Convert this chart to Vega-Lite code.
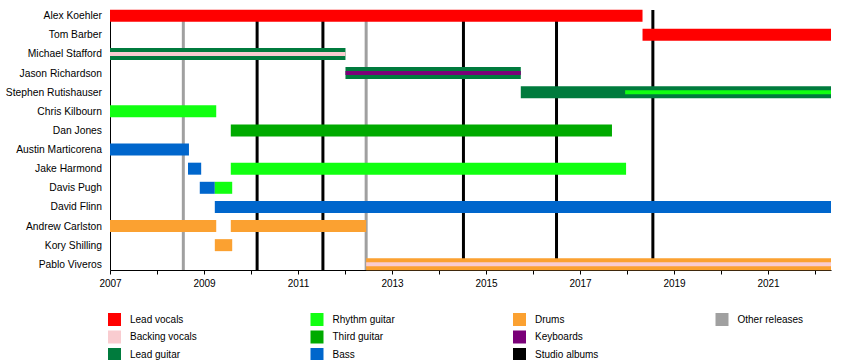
{
  "$schema": "https://vega.github.io/schema/vega-lite/v6.json",
  "width": 721,
  "height": 260,
  "autosize": {"type": "none"},
  "padding": {"left": 110, "top": 10, "right": 19, "bottom": 90},
  "background": "white",
  "config": {
    "view": {"stroke": null},
    "font": "Liberation Sans"
  },
  "datasets": {
    "bars": [
      {"name": "Alex Koehler", "role": "Lead vocals", "start": 2007, "end": 2018.33},
      {"name": "Tom Barber", "role": "Lead vocals", "start": 2018.33, "end": 2022.34},
      {"name": "Michael Stafford", "role": "Lead guitar", "start": 2007, "end": 2012.01},
      {"name": "Jason Richardson", "role": "Lead guitar", "start": 2012.01, "end": 2015.74},
      {"name": "Stephen Rutishauser", "role": "Lead guitar", "start": 2015.74, "end": 2022.34},
      {"name": "Chris Kilbourn", "role": "Rhythm guitar", "start": 2007, "end": 2009.26},
      {"name": "Dan Jones", "role": "Third guitar", "start": 2009.57, "end": 2017.68},
      {"name": "Austin Marticorena", "role": "Bass", "start": 2007, "end": 2008.68},
      {"name": "Jake Harmond", "role": "Bass", "start": 2008.66, "end": 2008.94},
      {"name": "Jake Harmond", "role": "Rhythm guitar", "start": 2009.57, "end": 2017.98},
      {"name": "Davis Pugh", "role": "Bass", "start": 2008.91, "end": 2009.23},
      {"name": "Davis Pugh", "role": "Rhythm guitar", "start": 2009.23, "end": 2009.6},
      {"name": "David Flinn", "role": "Bass", "start": 2009.23, "end": 2022.34},
      {"name": "Andrew Carlston", "role": "Drums", "start": 2007, "end": 2009.26},
      {"name": "Andrew Carlston", "role": "Drums", "start": 2009.57, "end": 2012.45},
      {"name": "Kory Shilling", "role": "Drums", "start": 2009.23, "end": 2009.6},
      {"name": "Pablo Viveros", "role": "Drums", "start": 2012.45, "end": 2022.34}
    ],
    "stripes": [
      {"name": "Michael Stafford", "role": "Backing vocals", "start": 2007, "end": 2012.01},
      {"name": "Jason Richardson", "role": "Keyboards", "start": 2012.01, "end": 2015.74},
      {"name": "Stephen Rutishauser", "role": "Rhythm guitar", "start": 2017.96, "end": 2022.34},
      {"name": "Pablo Viveros", "role": "Backing vocals", "start": 2012.45, "end": 2022.34}
    ],
    "lines": [
      {"role": "Other releases", "year": 2008.56},
      {"role": "Other releases", "year": 2012.45},
      {"role": "Studio albums", "year": 2010.13},
      {"role": "Studio albums", "year": 2011.53},
      {"role": "Studio albums", "year": 2014.52},
      {"role": "Studio albums", "year": 2016.5},
      {"role": "Studio albums", "year": 2018.55}
    ]
  },
  "encoding": {
    "color": {
      "field": "role",
      "type": "nominal",
      "scale": {
        "domain": ["Lead vocals", "Backing vocals", "Lead guitar", "Rhythm guitar", "Third guitar", "Bass", "Drums", "Keyboards", "Studio albums", "Other releases", " "],
        "range": ["#FF0000", "#F9CCD0", "#007B3D", "#11FF11", "#00AA00", "#0066CC", "#FBA131", "#7A0078", "#000000", "#A0A0A0", "rgba(0,0,0,0)"]
      },
      "legend": {
        "orient": "none",
        "legendX": -2,
        "legendY": 303,
        "columns": 4,
        "title": null,
        "symbolType": "square",
        "symbolSize": 169,
        "symbolStrokeWidth": 0,
        "labelFontSize": 10,
        "labelFont": "Liberation Sans",
        "labelColor": "black",
        "labelOffset": 9,
        "labelLimit": 200,
        "rowPadding": 4.5,
        "columnPadding": 113.5,
        "gridAlign": "all",
        "padding": 0,
        "encode": {
          "symbols": {
            "update": {
              "fill": {"scale": "color", "field": "value"},
              "stroke": {"value": "transparent"},
              "opacity": {"value": 1}
            }
          }
        }
      }
    }
  },
  "layer": [
    {
      "data": {"name": "lines"},
      "mark": {"type": "rule", "strokeWidth": 3},
      "encoding": {
        "x": {"field": "year", "type": "quantitative", "scale": {"domain": [2007, 2022.34], "nice": false, "zero": false}}
      }
    },
    {
      "data": {"name": "bars"},
      "mark": {"type": "bar", "size": 12},
      "encoding": {
        "x": {
          "field": "start",
          "type": "quantitative",
          "scale": {"domain": [2007, 2022.34], "nice": false, "zero": false},
          "axis": {
            "title": null,
            "values": [2007, 2008, 2009, 2010, 2011, 2012, 2013, 2014, 2015, 2016, 2017, 2018, 2019, 2020, 2021, 2022],
            "labelExpr": "datum.value % 2 == 1 ? format(datum.value, 'd') : ''",
            "grid": false,
            "domainColor": "black",
            "tickColor": "black",
            "tickSize": 4,
            "labelFontSize": 10,
            "labelFont": "Liberation Sans",
            "labelColor": "black",
            "labelPadding": 4,
            "labelFlush": false,
            "labelOverlap": false
          }
        },
        "x2": {"field": "end"},
        "y": {
          "field": "name",
          "type": "nominal",
          "sort": ["Alex Koehler", "Tom Barber", "Michael Stafford", "Jason Richardson", "Stephen Rutishauser", "Chris Kilbourn", "Dan Jones", "Austin Marticorena", "Jake Harmond", "Davis Pugh", "David Flinn", "Andrew Carlston", "Kory Shilling", "Pablo Viveros"],
          "scale": {"type": "point", "padding": 0.3},
          "axis": {
            "title": null,
            "ticks": false,
            "grid": false,
            "domainColor": "black",
            "labelFontSize": 10.3,
            "labelFont": "Liberation Sans",
            "labelColor": "black",
            "labelPadding": 8.5,
            "labelLimit": 200
          }
        }
      }
    },
    {
      "data": {"name": "stripes"},
      "mark": {"type": "bar", "size": 4},
      "encoding": {
        "x": {"field": "start", "type": "quantitative"},
        "x2": {"field": "end"},
        "y": {
          "field": "name",
          "type": "nominal",
          "sort": ["Alex Koehler", "Tom Barber", "Michael Stafford", "Jason Richardson", "Stephen Rutishauser", "Chris Kilbourn", "Dan Jones", "Austin Marticorena", "Jake Harmond", "Davis Pugh", "David Flinn", "Andrew Carlston", "Kory Shilling", "Pablo Viveros"]
        }
      }
    }
  ]
}
